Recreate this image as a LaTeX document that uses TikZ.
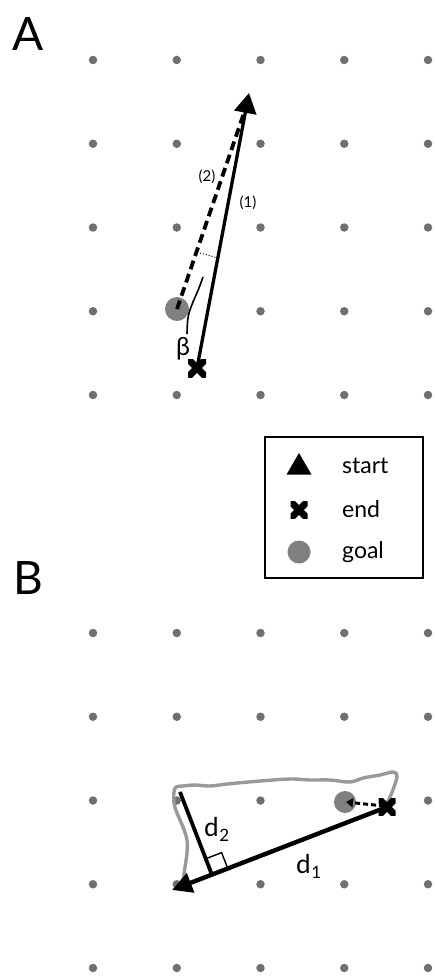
\documentclass[tikz,border=0pt]{standalone}
\usepackage{fontspec}
\setmainfont{Lato}
\usetikzlibrary{arrows.meta,calc,shapes.geometric}
\definecolor{dotgray}{HTML}{707070}
\definecolor{goalgray}{HTML}{808080}
\definecolor{pathgray}{HTML}{999999}
\newcommand\mysub[2]{\raisebox{#1}{\fontsize{17}{17}\selectfont #2}}
\begin{document}
\begin{tikzpicture}[x=1pt,y=-1pt,
  griddot/.style={circle,fill=dotgray,inner sep=0pt,minimum size=8.5pt},
  goalmark/.style={circle,fill=goalgray,inner sep=0pt,minimum size=#1},
  crossmark/.style={rectangle,inner sep=0pt,minimum size=#1,
    path picture={\draw[line width=7pt]
      (path picture bounding box.north west) -- (path picture bounding box.south east)
      (path picture bounding box.north east) -- (path picture bounding box.south west);}},
  panellabel/.style={font=\fontsize{46}{46}\selectfont,inner sep=0pt},
  smalllabel/.style={font=\fontsize{15}{15}\selectfont,inner sep=0pt},
  legtext/.style={font=\fontsize{23}{23}\selectfont,inner sep=0pt,anchor=base west},
  dlabel/.style={font=\fontsize{26}{26}\selectfont,inner sep=0pt,anchor=base west},
  mainline/.style={line width=3.3pt},
  dashline/.style={line width=3.8pt,dash pattern=on 9pt off 5pt},
  trajectory/.style={line width=3.4pt,draw=pathgray,line cap=round,line join=round}
]
\useasboundingbox (0,0) rectangle (434,979);

% panel labels
\node[panellabel] (labA) at (28,34) {A};
\node[panellabel] (labB) at (28,578) {B};

% grids
\foreach \i in {0,...,4}{
  \foreach \j in {0,...,4}{
    \node[griddot] (a\i\j) at ({93+83.75*\i},{60+83.75*\j}) {};
    \node[griddot] (b\i\j) at ({93+83.75*\i},{633+83.75*\j}) {};
  }
}

% ---------------- Panel A ----------------
\coordinate (Astart) at (249,93);
\coordinate (Aend) at (197,368);
\coordinate (Agoalc) at (177,309);
\coordinate (Adashend) at (245,110);
\node[goalmark=24pt] (Agoal) at (Agoalc) {};
\draw[mainline,-{Triangle[width=22pt,length=20pt]}] (Aend) -- (Astart);
\draw[dashline] (Agoalc) -- (Adashend);
\coordinate (Adot1) at (200,253);
\coordinate (Adot2) at (218,258);
\draw[line width=1pt,dotted] (Adot1) -- (Adot2);
\draw[line width=1.6pt] plot[smooth] coordinates {(203,277) (199,288) (193,302) (189,313) (187.5,322) (187,334)};
\node[crossmark=18pt] (Across) at (Aend) {};
\node[smalllabel] (l2) at (207,177) {(2)};
\node[smalllabel] (l1) at (248,203) {(1)};
\node[font=\fontsize{25}{25}\selectfont,inner sep=0pt] (beta) at (183,349) {β};

% ---------------- Legend ----------------
\node[draw,line width=1.2pt,minimum width=158pt,minimum height=141pt,inner sep=0pt] (legend) at (344,507.5) {};
\node[regular polygon,regular polygon sides=3,fill,inner sep=0pt,minimum size=28.9pt] (legtri) at (299,467.4) {};
\node[crossmark=17pt] (legcross) at (299,510) {};
\node[goalmark=23pt] (leggoal) at (299,552) {};
\node[legtext] (tstart) at (342,473) {start};
\node[legtext] (tend) at (342,517) {end};
\node[legtext] (tgoal) at (342,558) {goal};

% ---------------- Panel B ----------------
\coordinate (Bstart) at (172,890);
\coordinate (Bend) at (387,807);
\coordinate (Bcorner) at (180,792);
\coordinate (Bgoalc) at (345,802);
\node[goalmark=22pt] (Bgoal) at (Bgoalc) {};
\draw[trajectory] plot[smooth,tension=0.6] coordinates {
  (181,887) (183,880) (185,867) (187,853) (187,840) (183,827) (177,813)
  (174,803) (174,792) (176,787) (183,786) (195,785) (210,786) (227,784)
  (260,781) (290,779) (310,780) (330,780) (350,782) (363,778) (380,775)
  (393,772) (397,776) (394,787) (390,797) (385,807)};
\coordinate (Bfoot) at ($(Bstart)!(Bcorner)!(Bend)$);
\coordinate (Bq1) at ($(Bfoot)!17pt!(Bend)$);
\coordinate (Bq2) at ($(Bfoot)!17pt!(Bcorner)$);
\coordinate (Bq3) at ($(Bq1)+(Bq2)-(Bfoot)$);
\draw[line width=1.4pt] (Bq1) -- (Bq3) -- (Bq2);
\draw[line width=3.8pt] (Bcorner) -- (Bfoot);
\draw[line width=4.4pt,-{Triangle[width=20pt,length=20pt]}] (Bend) -- (Bstart);
\draw[line width=3pt,dash pattern=on 5pt off 3pt,-{Triangle[width=9pt,length=7pt]}] ($(Bend)+(-3,-1)$) coordinate (Bdash) -- ($(Bgoalc)+(1,0)$);
\node[crossmark=17pt] (Bcross) at (Bend) {};
\node[dlabel] (d2) at (204,836) {d\hspace{0.5pt}\mysub{-5pt}{2}};
\node[dlabel] (d1) at (296,873) {d\hspace{0.5pt}\mysub{-5pt}{1}};
\end{tikzpicture}
\end{document}
